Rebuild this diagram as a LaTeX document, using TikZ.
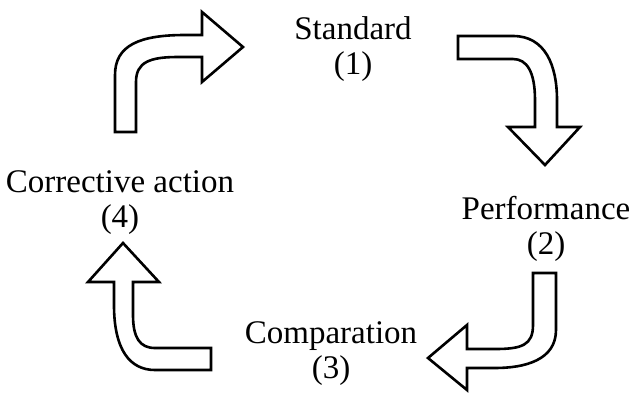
\documentclass[tikz,border=0pt]{standalone}
\usepackage{fontspec}
\setmainfont{Liberation Serif}
\begin{document}
\begin{tikzpicture}[x=1pt,y=-1pt,
  bentarrow/.style={draw=black,fill=white,line width=2.6pt,line join=miter},
  steplabel/.style={font=\fontsize{33}{35}\selectfont,align=center,inner sep=0pt,anchor=base}]
\useasboundingbox (0,0) rectangle (630,392);

% labels (anchored at the baseline of the lower line)
\node[steplabel] (standard) at (353,74) {Standard\\(1)};
\node[steplabel] (performance) at (546,254) {Performance\\(2)};
\node[steplabel] (comparation) at (331,378) {Comparation\\(3)};
\node[steplabel] (corrective) at (120,227) {Corrective action\\(4)};

% (4) -> (1): up, then right
\draw[bentarrow] (115,132) -- (115,75)
  .. controls (115,45) and (140,35) .. (185,35) -- (202,35) -- (202,12)
  -- (243,47) -- (202,82) -- (202,57) -- (178,57)
  .. controls (150,57) and (136,62) .. (136,82) -- (136,132) -- cycle;

% (1) -> (2): right, then down
\draw[bentarrow] (458,36) -- (513,36)
  .. controls (545,36) and (557,65) .. (557,100) -- (557,127) -- (580,127)
  -- (545,165) -- (508,127) -- (535,127) -- (535,100)
  .. controls (535,72) and (527,59) .. (513,59) -- (458,59) -- cycle;

% (2) -> (3): down, then left
\draw[bentarrow] (533,273) -- (556,273) -- (556,330)
  .. controls (556,360) and (525,368) .. (495,368) -- (467,368) -- (467,390)
  -- (428,358) -- (467,325) -- (467,349) -- (495,349)
  .. controls (522,349) and (533,345) .. (533,325) -- cycle;

% (3) -> (4): left, then up
\draw[bentarrow] (211,370) -- (211,348) -- (155,348)
  .. controls (140,348) and (133,338) .. (133,315) -- (133,282) -- (159,282)
  -- (123,243) -- (88,282) -- (114,282) -- (114,305)
  .. controls (114,350) and (130,370) .. (155,370) -- cycle;
\end{tikzpicture}
\end{document}
